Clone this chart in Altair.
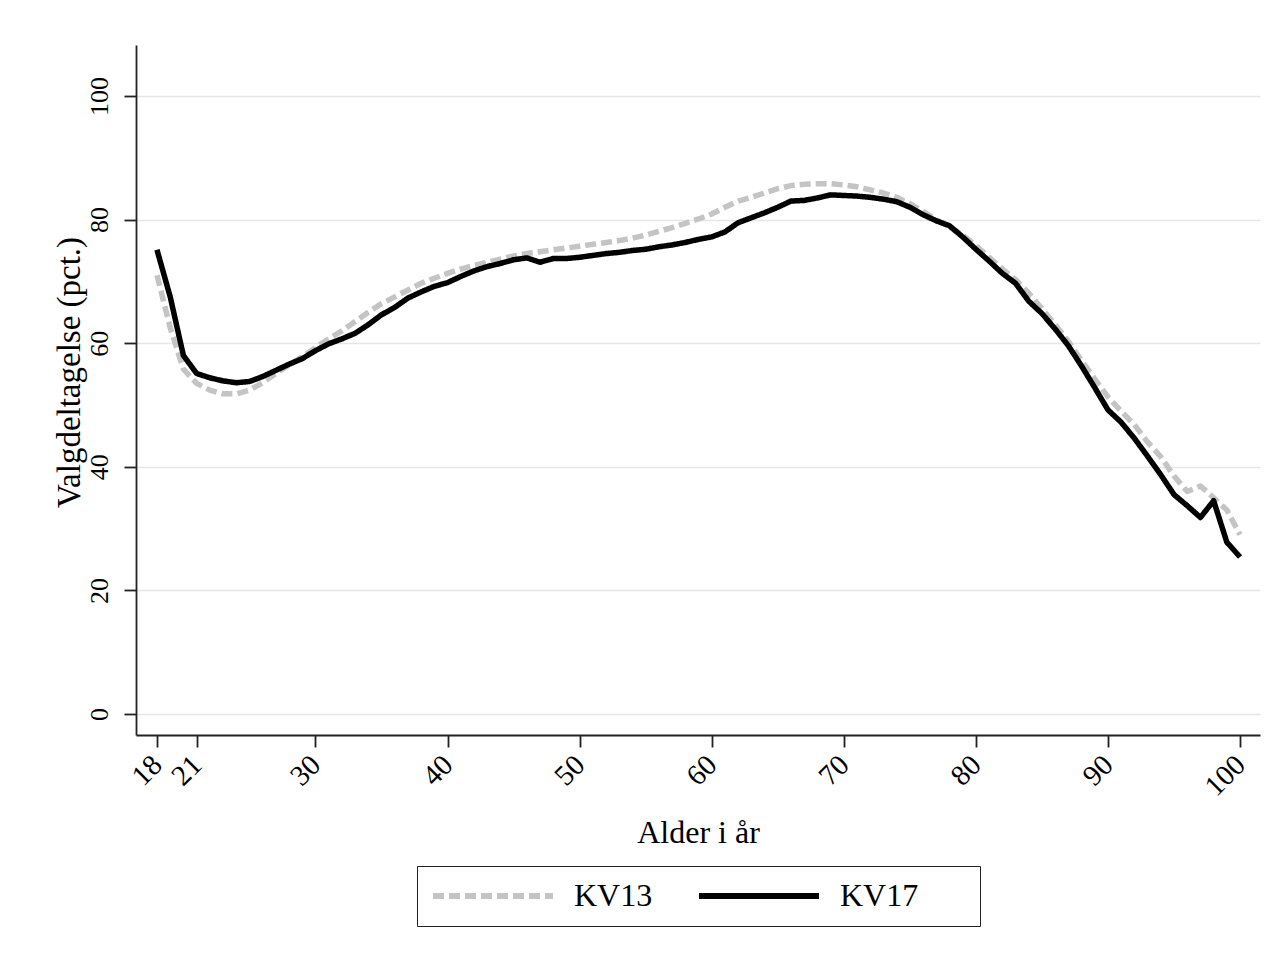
import altair as alt
import pandas as pd

ages = list(range(18, 101))

kv13 = [71.0, 62.5, 55.8, 53.5, 52.4, 51.8, 51.8, 52.4, 53.6, 55.1,
        56.5, 57.8, 59.3, 60.7, 62.0, 63.5, 65.0, 66.4, 67.5, 68.6,
        69.7, 70.5, 71.3, 72.0, 72.6, 73.1, 73.6, 74.1, 74.5, 74.8,
        75.1, 75.4, 75.7, 76.0, 76.3, 76.6, 77.0, 77.5, 78.1, 78.7,
        79.4, 80.1, 80.9, 82.0, 83.0, 83.6, 84.3, 85.0, 85.5, 85.7,
        85.8, 85.8, 85.6, 85.3, 84.8, 84.3, 83.6, 82.6, 81.3, 80.0,
        78.8, 77.5, 75.8, 73.9, 72.0, 70.3, 68.1, 65.6, 63.0, 60.3,
        57.2, 54.2, 51.3, 49.0, 46.8, 44.0, 41.6, 38.5, 36.0, 36.9,
        35.0, 33.0, 29.0]

kv17 = [75.1, 67.5, 58.0, 55.1, 54.4, 53.9, 53.6, 53.8, 54.6, 55.6,
        56.6, 57.5, 58.8, 59.9, 60.7, 61.6, 63.0, 64.6, 65.8, 67.3,
        68.3, 69.2, 69.8, 70.8, 71.7, 72.4, 72.9, 73.5, 73.8, 73.1,
        73.7, 73.7, 73.9, 74.2, 74.5, 74.7, 75.0, 75.2, 75.6, 75.9,
        76.3, 76.8, 77.2, 78.0, 79.5, 80.3, 81.1, 82.0, 83.0, 83.1,
        83.5, 84.0, 83.9, 83.8, 83.6, 83.3, 82.9, 82.0, 80.8, 79.8,
        79.0, 77.2, 75.2, 73.3, 71.3, 69.7, 66.8, 64.8, 62.3, 59.6,
        56.3, 52.8, 49.2, 47.2, 44.6, 41.7, 38.7, 35.5, 33.7, 31.8,
        34.5, 27.8, 25.4]

series = ["KV13", "KV17"]
x_ticks = [18, 21, 30, 40, 50, 60, 70, 80, 90, 100]
y_ticks = [0, 20, 40, 60, 80, 100]

df = pd.DataFrame({
    "alder": ages + ages,
    "pct": kv13 + kv17,
    "valg": ["KV13"] * len(ages) + ["KV17"] * len(ages),
})

FONT = "Liberation Serif"
PAD = "\u00a0" * 6 + "\u200b"

legend = alt.Legend(title=None, orient="none", direction="horizontal",
                    legendX=281, legendY=821,
                    symbolType="stroke", symbolSize=14400,
                    symbolStrokeWidth=6, clipHeight=34,
                    labelFontSize=32, labelFont=FONT, labelColor="#000",
                    labelOffset=18, columnPadding=43, labelLimit=400,
                    padding=13, strokeColor="#222",
                    labelExpr="datum.label == 'KV17' ? datum.label + '" + PAD + "' : datum.label")

chart = alt.Chart(df).mark_line(strokeWidth=5.5, strokeCap="butt", strokeJoin="round").encode(
    x=alt.X("alder:Q",
            scale=alt.Scale(domain=[16.41, 101.51], nice=False, zero=False),
            axis=alt.Axis(values=x_ticks, title="Alder i år", grid=False,
                          labelAngle=-45, labelAlign="right", labelBaseline="middle",
                          labelFont=FONT, labelFontSize=29, labelColor="#000",
                          labelPadding=13, labelOverlap=False, labelBound=False,
                          titleFont=FONT, titleFontSize=32, titleColor="#000",
                          titleFontWeight="normal", titleBaseline="alphabetic",
                          titleY=107)),
    y=alt.Y("pct:Q",
            scale=alt.Scale(domain=[-3.4, 108.25], nice=False, zero=False),
            axis=alt.Axis(values=y_ticks, title="Valgdeltagelse (pct.)", grid=True,
                          labelAngle=-90, labelAlign="center", labelBaseline="bottom",
                          labelFont=FONT, labelFontSize=26, labelColor="#000",
                          labelPadding=12, labelOverlap=False,
                          titleFont=FONT, titleFontSize=33, titleColor="#000",
                          titleFontWeight="normal", titleBaseline="alphabetic",
                          titleX=-57, titleY=327)),
    color=alt.Color("valg:N",
                    scale=alt.Scale(domain=series, range=["#c4c4c4", "#000000"]),
                    legend=legend),
    strokeDash=alt.StrokeDash("valg:N",
                              scale=alt.Scale(domain=series, range=[[11, 5], [1, 0]]),
                              legend=legend),
    order=alt.Order("alder:Q"),
).properties(
    width=1124, height=690,
    autosize=alt.AutoSizeParams(type="none"),
    padding={"left": 128, "top": 37, "right": 10, "bottom": 220},
).configure_view(
    stroke=None
).configure_axis(
    domainColor="#222", domainWidth=1.8, tickColor="#222", tickWidth=1.8,
    tickSize=12, gridColor="#e6e6e6", gridWidth=1.5,
)

chart.save("out.html", embed_options={"renderer": "svg", "actions": False})
